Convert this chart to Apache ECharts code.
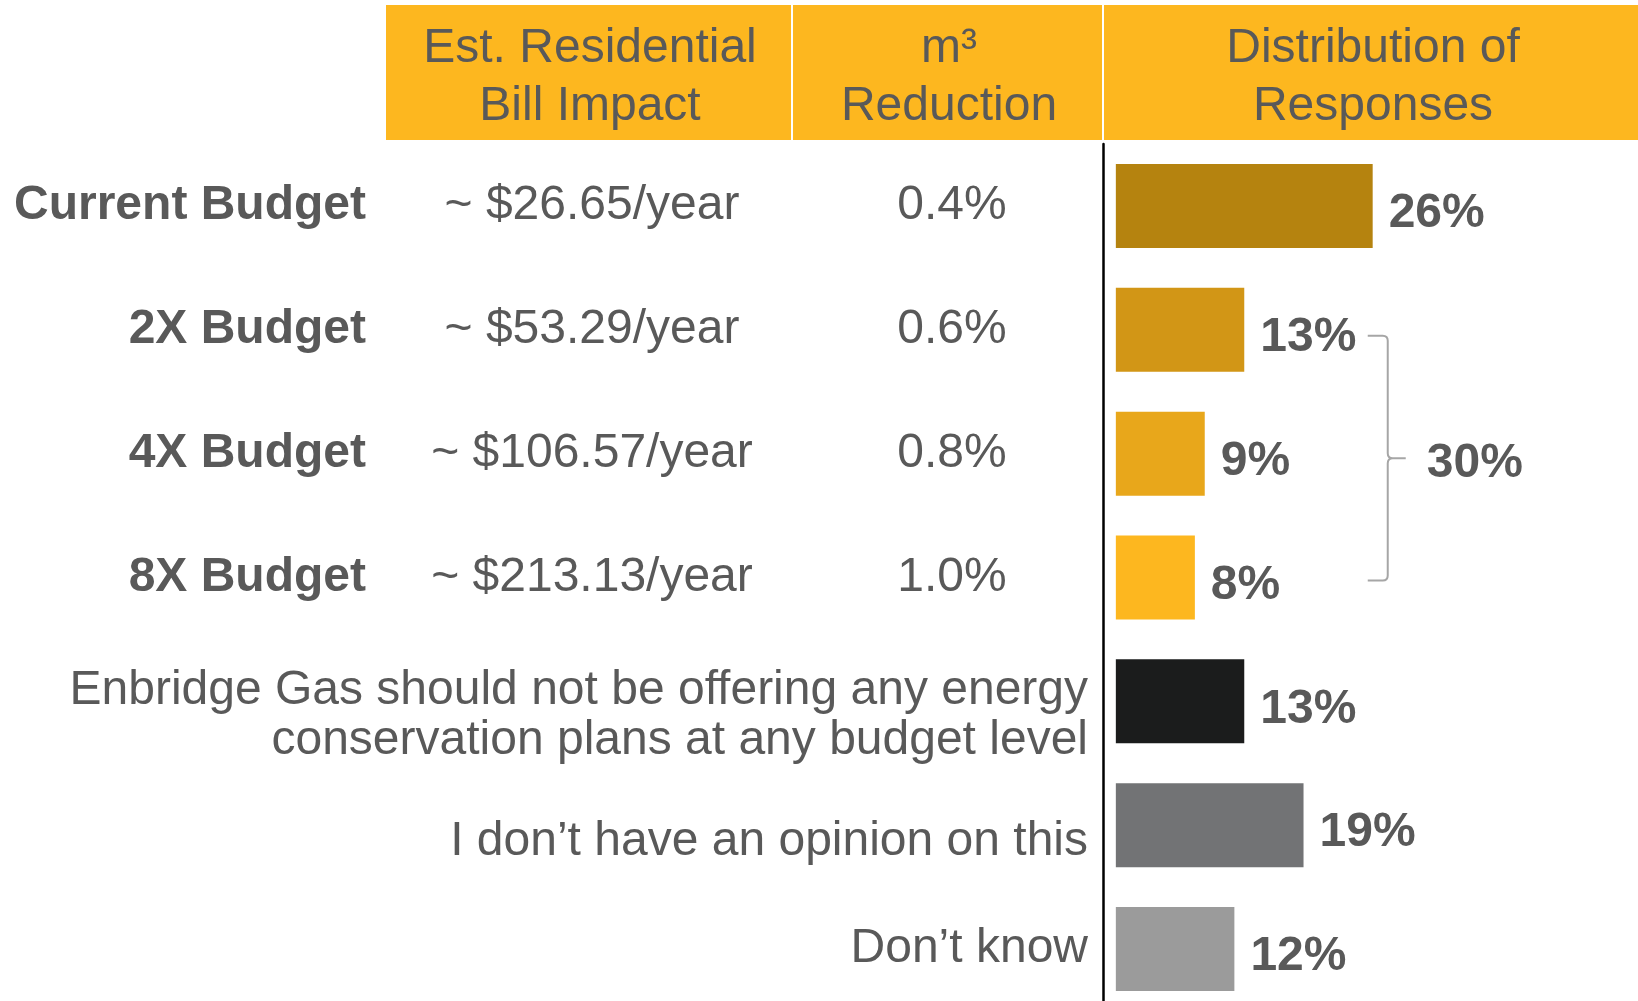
<!DOCTYPE html>
<html>
<head>
<meta charset="utf-8">
<script src="https://cdn.jsdelivr.net/npm/echarts@6/dist/echarts.min.js"></script>
<style>
  html, body { margin: 0; padding: 0; background: #ffffff; }
  #chart { width: 1638px; height: 1001px; }
</style>
</head>
<body>
<div id="chart"></div>
<script>
// ---------- data ----------
const categories = [
  'Current Budget',
  '2X Budget',
  '4X Budget',
  '8X Budget',
  'Enbridge Gas should not be offering any energy\nconservation plans at any budget level',
  'I don\u2019t have an opinion on this',
  'Don\u2019t know'
];
const billImpact = ['~ $26.65/year', '~ $53.29/year', '~ $106.57/year', '~ $213.13/year', '', '', ''];
const m3Reduction = ['0.4%', '0.6%', '0.8%', '1.0%', '', '', ''];
const responses = [26, 13, 9, 8, 13, 19, 12];
const headers = ['Est. Residential\nBill Impact', 'm\u00B3\nReduction', 'Distribution of\nResponses'];
const bracketGroup = ['2X Budget', '8X Budget'];
const bracketTotal = 30;

// ---------- styles ----------
const FONT = "'Liberation Sans', Arial, sans-serif";
const FS = 48;
const TEXT = '#595959';
const barColors = ['#B5830F', '#D29616', '#E8A71B', '#FDB71F', '#1B1C1C', '#727375', '#9B9B9B'];
const BRACKET_X = 25.5;
// spacer (px) placed above some left labels to lower them slightly (style only)
const labelSpacer = [0, 0, 0, 0, 28, 33, 0];

const chart = echarts.init(document.getElementById('chart'), null, { renderer: 'canvas' });

const isBudget = i => billImpact[i] !== '';

const rich = { p: { fontSize: FS, fontFamily: FONT, color: TEXT, lineHeight: 50 } };
labelSpacer.forEach((s, i) => { if (s) rich['s' + i] = { fontSize: 1, lineHeight: s }; });

function mainLabel(v, i) {
  if (isBudget(i)) return '';
  const body = v.split('\n').map(l => '{p|' + l + '}').join('\n');
  return labelSpacer[i] ? '{s' + i + '| }\n' + body : body;
}

function labelAxis(offset, align, formatter, bold, margin) {
  return {
    type: 'category', data: categories, inverse: true, position: 'left', offset: offset,
    axisLine: { show: false, onZero: false }, axisTick: { show: false }, splitLine: { show: false },
    axisLabel: {
      interval: 0, align: align, margin: margin, formatter: formatter,
      fontSize: FS, fontFamily: FONT, color: TEXT, fontWeight: bold ? 'bold' : 'normal', lineHeight: 50
    }
  };
}

const option = {
  animation: false,
  backgroundColor: '#ffffff',
  grid: { left: 1103, top: 144, width: 487, height: 867, containLabel: false, outerBoundsMode: 'none' },
  xAxis: { type: 'value', min: -1.3, max: 48, show: false },
  yAxis: [
    {
      type: 'category', data: categories, inverse: true, position: 'left',
      axisLine: { show: true, onZero: false, lineStyle: { color: '#000000', width: 2.5 } },
      axisTick: { show: false }, splitLine: { show: false },
      axisLabel: {
        interval: 0, margin: 15, align: 'right',
        formatter: mainLabel, rich: rich,
        fontSize: FS, fontFamily: FONT, color: TEXT, lineHeight: 50
      }
    },
    labelAxis(737, 'right', (v, i) => isBudget(i) ? v : '', true, 0),
    labelAxis(511, 'center', (v, i) => billImpact[i], false, 0),
    labelAxis(151, 'center', (v, i) => m3Reduction[i], false, 0)
  ],
  graphic: [
    { type: 'rect', shape: { x: 386, y: 5, width: 1252, height: 135 }, style: { fill: '#FDB71F' }, z: 0 },
    { type: 'rect', shape: { x: 791, y: 5, width: 2, height: 135 }, style: { fill: '#ffffff' }, z: 1 },
    { type: 'rect', shape: { x: 1102, y: 5, width: 2, height: 135 }, style: { fill: '#ffffff' }, z: 1 },
    { type: 'text', x: 590, y: 78, style: { text: headers[0], font: FS + 'px ' + FONT, fill: TEXT, align: 'center', verticalAlign: 'middle', lineHeight: 58 }, z: 2 },
    { type: 'text', x: 949, y: 78, style: { text: headers[1], font: FS + 'px ' + FONT, fill: TEXT, align: 'center', verticalAlign: 'middle', lineHeight: 58 }, z: 2 },
    { type: 'text', x: 1373, y: 78, style: { text: headers[2], font: FS + 'px ' + FONT, fill: TEXT, align: 'center', verticalAlign: 'middle', lineHeight: 58 }, z: 2 }
  ],
  series: [
    {
      type: 'bar',
      yAxisIndex: 0,
      barWidth: 84,
      data: responses.map((v, i) => ({ value: v, itemStyle: { color: barColors[i] } })),
      label: {
        show: true, position: 'right', distance: 16, offset: [0, 8], formatter: '{c}%',
        fontSize: FS, fontWeight: 'bold', fontFamily: FONT, color: TEXT
      }
    },
    {
      type: 'custom',
      yAxisIndex: 0,
      encode: { x: 0, y: [1, 2] },
      data: [[BRACKET_X, categories.indexOf(bracketGroup[0]), categories.indexOf(bracketGroup[1]), bracketTotal]],
      z: 5,
      renderItem: function (params, api) {
        const p1 = api.coord([api.value(0), api.value(1)]);
        const p2 = api.coord([api.value(0), api.value(2)]);
        const x0 = p1[0];
        const y0 = p1[1] + 6;
        const y1 = p2[1] + 3;
        const xv = x0 + 20;
        const tip = x0 + 38;
        const ym = (y0 + y1) / 2;
        const r = 5;
        const d = [
          'M', x0, y0, 'L', xv - r, y0, 'Q', xv, y0, xv, y0 + r,
          'L', xv, ym - r, 'Q', xv, ym, xv + r, ym, 'L', tip, ym,
          'M', xv + r, ym, 'Q', xv, ym, xv, ym + r,
          'L', xv, y1 - r, 'Q', xv, y1, xv - r, y1, 'L', x0, y1
        ].join(' ');
        return {
          type: 'group',
          children: [
            { type: 'path', shape: { pathData: d }, style: { fill: 'none', stroke: '#A6A6A6', lineWidth: 2 } },
            { type: 'text', x: tip + 21, y: ym + 6, style: { text: api.value(3) + '%', font: 'bold ' + FS + 'px ' + FONT, fill: TEXT, align: 'left', verticalAlign: 'middle' } }
          ]
        };
      }
    }
  ]
};

chart.setOption(option);
</script>
</body>
</html>
